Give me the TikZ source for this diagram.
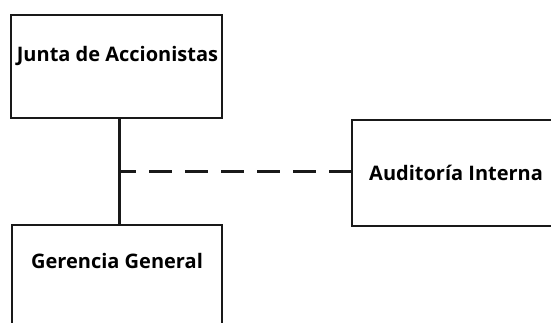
\documentclass[tikz,border=0pt]{standalone}
\usepackage{fontspec}
\setmainfont{Open Sans}
\begin{document}
\begin{tikzpicture}[x=1pt,y=-1pt,
  orgbox/.style={draw=black!90, line width=2pt, fill=white, inner sep=0pt},
  orglabel/.style={font=\fontsize{20}{22}\selectfont\bfseries, inner sep=0pt, anchor=base},
  link/.style={line width=3pt, black!90},
  dashlink/.style={line width=3pt, black!90, dash pattern=on 23pt off 13pt, dash phase=6pt}]
  \useasboundingbox (0,0) rectangle (551,323);
  \clip (0,0) rectangle (551,323);
  % boxes
  \node[orgbox, minimum width=211pt, minimum height=103pt] (junta) at (116.5,66.5) {};
  \node[orgbox, minimum width=210pt, minimum height=103pt] (gerencia) at (117,276.5) {};
  \node[orgbox, minimum width=210pt, minimum height=106pt] (auditoria) at (457,173) {};
  % labels
  \node[orglabel] (tjunta) at (117.5,62) {Junta de Accionistas};
  \node[orglabel] (tgerencia) at (117,268) {Gerencia General};
  \node[orglabel, anchor=base west] (tauditoria) at (369,181) {Auditoría Interna};
  % connectors
  \draw[link] (junta.south -| 119,0) -- (gerencia.north -| 119,0);
  \coordinate (branch) at (119,172);
  \draw[dashlink] (branch) -- (auditoria.west |- branch);
\end{tikzpicture}
\end{document}
